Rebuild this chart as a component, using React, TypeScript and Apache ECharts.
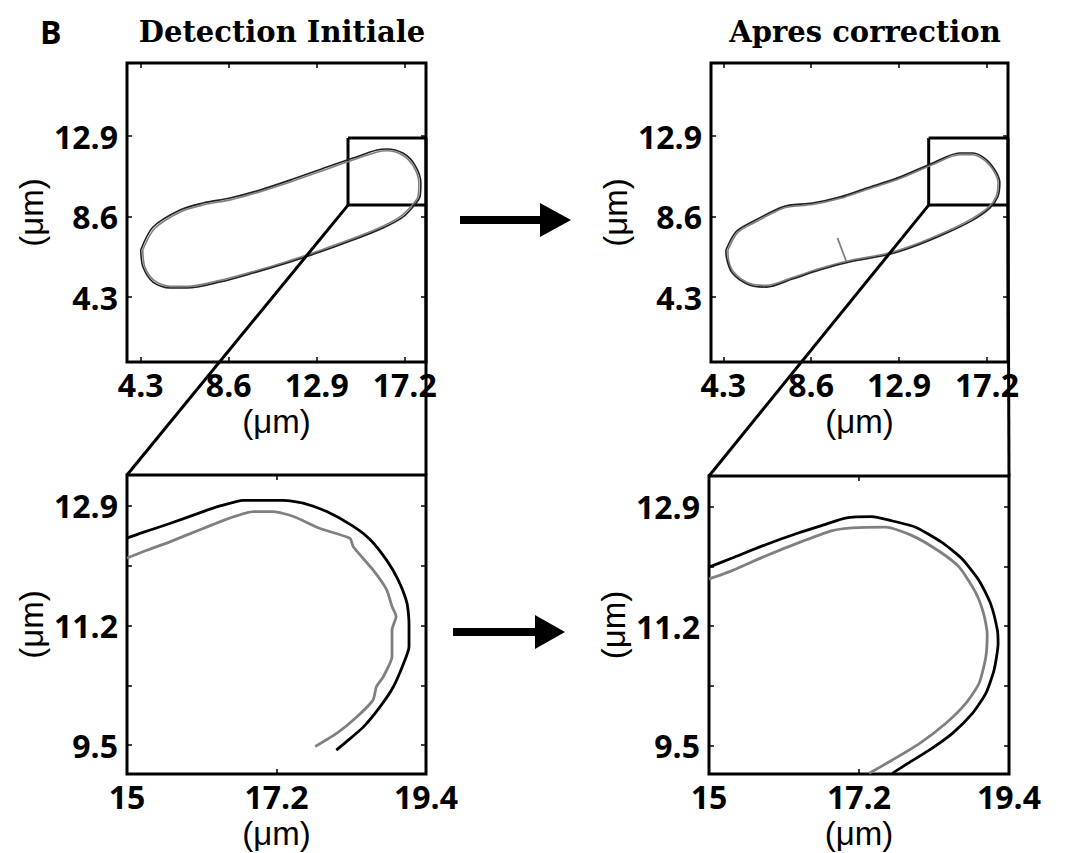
import React, { useEffect, useRef } from "react";
import * as echarts from "echarts";

// ---- axis ranges and ticks ----
const overviewTicks = [4.3, 8.6, 12.9, 17.2];
const zoomXTicks = [15, 17.2, 19.4];
const zoomYTicks = [9.5, 10.35, 11.2, 12.05, 12.9];
const zoomYLabels = [9.5, 11.2, 12.9];
const overviewXRangeLeft = [3.63, 18.24];
const overviewXRangeRight = [3.7, 18.23];
const overviewYRange = [0.83, 16.8];
const zoomXRange = [15, 19.4];
const zoomYRange = [9.09, 13.34];
// zoom box in overview coords: [xMin, xMax, yMin, yMax]
const boxLeft = [14.43, 18.24, 9.21, 12.79];
const boxRight = [14.35, 18.23, 9.21, 12.79];

const titles = ["Detection Initiale", "Apres correction"];
const unitLabel = "(μm)";

// ---- contours (µm) ----
const initialBlack = [
  [4.3, 6.81], [4.9, 8.04], [6.22, 8.95], [7.34, 9.32], [8.66, 9.59], [10.13, 10.02],
  [11.74, 10.6], [13.4, 11.24], [14.67, 11.72], [15.84, 12.15], [16.33, 12.21], [17.11, 11.99],
  [17.7, 11.35], [17.99, 10.39], [17.94, 9.64], [17.6, 9.11], [17.11, 8.57], [16.14, 7.99],
  [14.67, 7.34], [13.06, 6.7], [11.45, 6.12], [9.79, 5.58], [8.17, 5.1], [6.56, 4.78],
  [5.73, 4.78], [4.9, 5.1], [4.41, 5.9], [4.3, 6.81],
];
const initialGrey = [
  [4.4, 6.81], [4.98, 7.96], [6.26, 8.86], [7.36, 9.22], [8.68, 9.49], [10.15, 9.93],
  [11.76, 10.5], [13.42, 11.14], [14.7, 11.63], [15.86, 12.05], [16.33, 12.11], [17.06, 11.9],
  [17.62, 11.3], [17.89, 10.39], [17.85, 9.67], [17.52, 9.16], [17.05, 8.65], [16.1, 8.07],
  [14.65, 7.42], [13.05, 6.79], [11.45, 6.2], [9.8, 5.66], [8.18, 5.19], [6.57, 4.87],
  [5.75, 4.87], [4.97, 5.18], [4.5, 5.92], [4.4, 6.81],
];
const correctedBlack = [
  [4.43, 6.81], [4.92, 7.79], [5.72, 8.32], [7.05, 9.05], [7.54, 9.21], [8.66, 9.32],
  [9.99, 9.64], [11.31, 10.12], [12.93, 10.71], [14.55, 11.46], [15.87, 11.99], [16.51, 11.99],
  [17.34, 11.46], [17.83, 10.39], [17.73, 9.64], [17.34, 9.05], [16.51, 8.41], [15.23, 7.72],
  [13.56, 6.97], [12.29, 6.54], [10.48, 6.17], [9.01, 5.74], [7.68, 5.26], [6.41, 4.83],
  [5.57, 4.94], [4.74, 5.58], [4.45, 6.44], [4.43, 6.81],
];
const correctedGrey = [
  [4.53, 6.81], [5.0, 7.74], [5.77, 8.24], [7.07, 8.97], [7.55, 9.12], [8.67, 9.24],
  [10.0, 9.56], [11.32, 10.04], [12.94, 10.63], [14.56, 11.38], [15.88, 11.9], [16.49, 11.9],
  [17.28, 11.41], [17.74, 10.39], [17.65, 9.67], [17.28, 9.1], [16.47, 8.49], [15.21, 7.8],
  [13.55, 7.05], [12.28, 6.62], [10.48, 6.25], [9.01, 5.82], [7.69, 5.34], [6.42, 4.92],
  [5.6, 5.02], [4.82, 5.62], [4.54, 6.44], [4.53, 6.81],
];
const correctedSpike = [[10.33, 6.17], [9.89, 7.45]];

const zoomInitialBlack = [
  [15.0, 12.44], [15.19, 12.51], [15.63, 12.65], [16.12, 12.82], [16.37, 12.9], [16.71, 12.98],
  [17.3, 12.98], [17.59, 12.94], [17.94, 12.82], [18.33, 12.61], [18.58, 12.42], [18.82, 12.13],
  [18.99, 11.85], [19.12, 11.52], [19.15, 11.23], [19.15, 10.9], [19.07, 10.66], [18.92, 10.33],
  [18.72, 10.04], [18.48, 9.76], [18.23, 9.55], [18.08, 9.43],
];
const zoomInitialGrey = [
  [15.0, 12.16], [15.29, 12.27], [15.63, 12.39], [16.12, 12.58], [16.52, 12.73], [16.86, 12.82],
  [17.15, 12.82], [17.45, 12.75], [17.84, 12.58], [18.28, 12.44], [18.33, 12.32], [18.62, 11.99],
  [18.82, 11.71], [18.9, 11.47], [18.96, 11.33], [18.9, 11.14], [18.9, 10.76], [18.77, 10.47],
  [18.67, 10.33], [18.62, 10.14], [18.38, 9.9], [18.09, 9.67], [17.77, 9.48],
];
const zoomCorrectedBlack = [
  [15.0, 12.04], [15.34, 12.17], [15.83, 12.36], [16.32, 12.53], [16.71, 12.65], [17.0, 12.74],
  [17.39, 12.76], [17.64, 12.71], [18.03, 12.61], [18.42, 12.39], [18.71, 12.16], [18.96, 11.85],
  [19.13, 11.52], [19.23, 11.14], [19.24, 10.95], [19.18, 10.57], [19.06, 10.24], [18.86, 9.95],
  [18.57, 9.67], [18.23, 9.43], [17.88, 9.22], [17.69, 9.1],
];
const zoomCorrectedGrey = [
  [15.0, 11.87], [15.34, 11.99], [15.83, 12.2], [16.32, 12.39], [16.81, 12.56], [17.1, 12.6],
  [17.59, 12.61], [17.98, 12.49], [18.37, 12.27], [18.67, 12.04], [18.91, 11.68], [19.03, 11.37],
  [19.08, 11.09], [19.06, 10.76], [18.96, 10.38], [18.76, 10.09], [18.47, 9.81], [18.08, 9.52],
  [17.69, 9.29], [17.35, 9.1],
];

const BLACK = "#000000";
const GREY = "#808080";

const labelFont = { color: BLACK, fontFamily: "Open Sans", fontWeight: "bold" as const, fontSize: 32, lineHeight: 30 };
const nameFont = { color: BLACK, fontFamily: "Liberation Sans", fontWeight: "normal" as const, fontSize: 33, lineHeight: 30 };

function fmt(v: number) {
  return String(Math.round(v * 100) / 100);
}

function xAxesFor(grid: number, range: number[], ticks: number[], labels: number[]) {
  return [
    {
      type: "value", gridIndex: grid, position: "bottom", min: range[0], max: range[1],
      axisLine: { show: false }, splitLine: { show: false },
      axisTick: { show: true, inside: true, length: 5, customValues: ticks, lineStyle: { color: BLACK, width: 1.5 } },
      axisLabel: { show: true, customValues: labels, margin: 7, formatter: fmt, ...labelFont },
      name: unitLabel, nameLocation: "middle", nameGap: 44, nameTextStyle: nameFont,
    },
    {
      type: "value", gridIndex: grid, position: "top", min: range[0], max: range[1],
      axisLine: { show: false }, splitLine: { show: false },
      axisTick: { show: true, inside: true, length: 5, customValues: ticks, lineStyle: { color: BLACK, width: 1.5 } },
      axisLabel: { show: false },
    },
  ];
}
function yAxesFor(grid: number, range: number[], ticks: number[], labels: number[]) {
  return [
    {
      type: "value", gridIndex: grid, position: "left", min: range[0], max: range[1],
      axisLine: { show: false }, splitLine: { show: false },
      axisTick: { show: true, inside: true, length: 5, customValues: ticks, lineStyle: { color: BLACK, width: 1.5 } },
      axisLabel: { show: true, customValues: labels, margin: 9, formatter: fmt, ...labelFont },
      name: unitLabel, nameLocation: "middle", nameGap: 81, nameRotate: 90, nameTextStyle: nameFont,
    },
    {
      type: "value", gridIndex: grid, position: "right", min: range[0], max: range[1],
      axisLine: { show: false }, splitLine: { show: false },
      axisTick: { show: true, inside: true, length: 5, customValues: ticks, lineStyle: { color: BLACK, width: 1.5 } },
      axisLabel: { show: false },
    },
  ];
}

function lineSeries(grid: number, data: number[][], color: string, width: number, smooth: number | boolean) {
  return {
    type: "line", xAxisIndex: grid * 2, yAxisIndex: grid * 2, data,
    showSymbol: false, symbol: "none", smooth, silent: true,
    lineStyle: { color, width }, z: 3,
  };
}
function boxData(b: number[]) {
  return [[b[0], b[3]], [b[1], b[3]], [b[1], b[2]], [b[0], b[2]], [b[0], b[3]]];
}

export default function App() {
  const ref = useRef<HTMLDivElement>(null);
  useEffect(() => {
    if (!ref.current) return;
    const chart = echarts.init(ref.current, null, { renderer: "svg" });
    const gridStyle = { show: true, borderColor: BLACK, borderWidth: 3, backgroundColor: "transparent" };
    const titleStyle = { fontFamily: "DejaVu Serif", fontWeight: "bold", fontSize: 29, color: BLACK };
    chart.setOption({
      animation: false,
      backgroundColor: "#ffffff",
      title: [
        { text: "B", left: 35, top: 10, textStyle: { fontFamily: "Open Sans", fontWeight: "bold", fontSize: 32, color: BLACK } },
        { text: titles[0], left: 277, top: 12, textAlign: "center", textStyle: titleStyle },
        { text: titles[1], left: 860, top: 12, textAlign: "center", textStyle: titleStyle },
      ],
      grid: [
        { left: 127, top: 63, width: 299, height: 299, ...gridStyle },
        { left: 711, top: 63, width: 297, height: 299, ...gridStyle },
        { left: 127, top: 475, width: 299, height: 299, ...gridStyle },
        { left: 709, top: 476, width: 300, height: 298, ...gridStyle },
      ],
      xAxis: [
        ...xAxesFor(0, overviewXRangeLeft, overviewTicks, overviewTicks),
        ...xAxesFor(1, overviewXRangeRight, overviewTicks, overviewTicks),
        ...xAxesFor(2, zoomXRange, zoomXTicks, zoomXTicks),
        ...xAxesFor(3, zoomXRange, zoomXTicks, zoomXTicks),
      ],
      yAxis: [
        ...yAxesFor(0, overviewYRange, overviewTicks.slice(0, 3), overviewTicks.slice(0, 3)),
        ...yAxesFor(1, overviewYRange, overviewTicks.slice(0, 3), overviewTicks.slice(0, 3)),
        ...yAxesFor(2, zoomYRange, zoomYTicks, zoomYLabels),
        ...yAxesFor(3, zoomYRange, zoomYTicks, zoomYLabels),
      ],
      series: [
        lineSeries(0, boxData(boxLeft), BLACK, 3, false),
        lineSeries(0, initialGrey, GREY, 1.6, 0.3),
        lineSeries(0, initialBlack, "#222222", 1.6, 0.3),
        lineSeries(1, boxData(boxRight), BLACK, 3, false),
        lineSeries(1, correctedGrey, GREY, 1.6, 0.3),
        lineSeries(1, correctedBlack, "#222222", 1.6, 0.3),
        lineSeries(1, correctedSpike, GREY, 1.8, false),
        lineSeries(2, zoomInitialGrey, GREY, 2.8, 0.2),
        lineSeries(2, zoomInitialBlack, BLACK, 2.8, 0.2),
        lineSeries(3, zoomCorrectedGrey, GREY, 2.8, 0.2),
        lineSeries(3, zoomCorrectedBlack, BLACK, 2.8, 0.2),
      ],
    });

    const px = (s: number, pt: number[]) => chart.convertToPixel({ seriesIndex: s }, pt) as number[];
    const connector = (a: number[], b: number[]) => ({
      type: "line", z: 10, silent: true,
      shape: { x1: a[0], y1: a[1], x2: b[0], y2: b[1] },
      style: { stroke: BLACK, lineWidth: 3 },
    });
    const zTop = zoomYRange[1];
    const graphic = [
      connector(px(0, [boxLeft[0], boxLeft[2]]), px(7, [zoomXRange[0], zTop])),
      connector(px(0, [boxLeft[1], boxLeft[2]]), px(7, [zoomXRange[1], zTop])),
      connector(px(3, [boxRight[0], boxRight[2]]), px(9, [zoomXRange[0], zTop])),
      connector(px(3, [boxRight[1], boxRight[2]]), px(9, [zoomXRange[1], zTop])),
      // arrows
      { type: "rect", z: 10, shape: { x: 460, y: 216, width: 82, height: 8 }, style: { fill: BLACK } },
      { type: "polygon", z: 10, shape: { points: [[540, 203], [571, 220], [540, 237]] }, style: { fill: BLACK } },
      { type: "rect", z: 10, shape: { x: 453, y: 628, width: 84, height: 8 }, style: { fill: BLACK } },
      { type: "polygon", z: 10, shape: { points: [[535, 615], [565, 632], [535, 649]] }, style: { fill: BLACK } },
    ];
    chart.setOption({ graphic });

    return () => chart.dispose();
  }, []);
  return <div ref={ref} style={{ position: "absolute", left: 0, top: 0, width: 1067, height: 853 }} />;
}
